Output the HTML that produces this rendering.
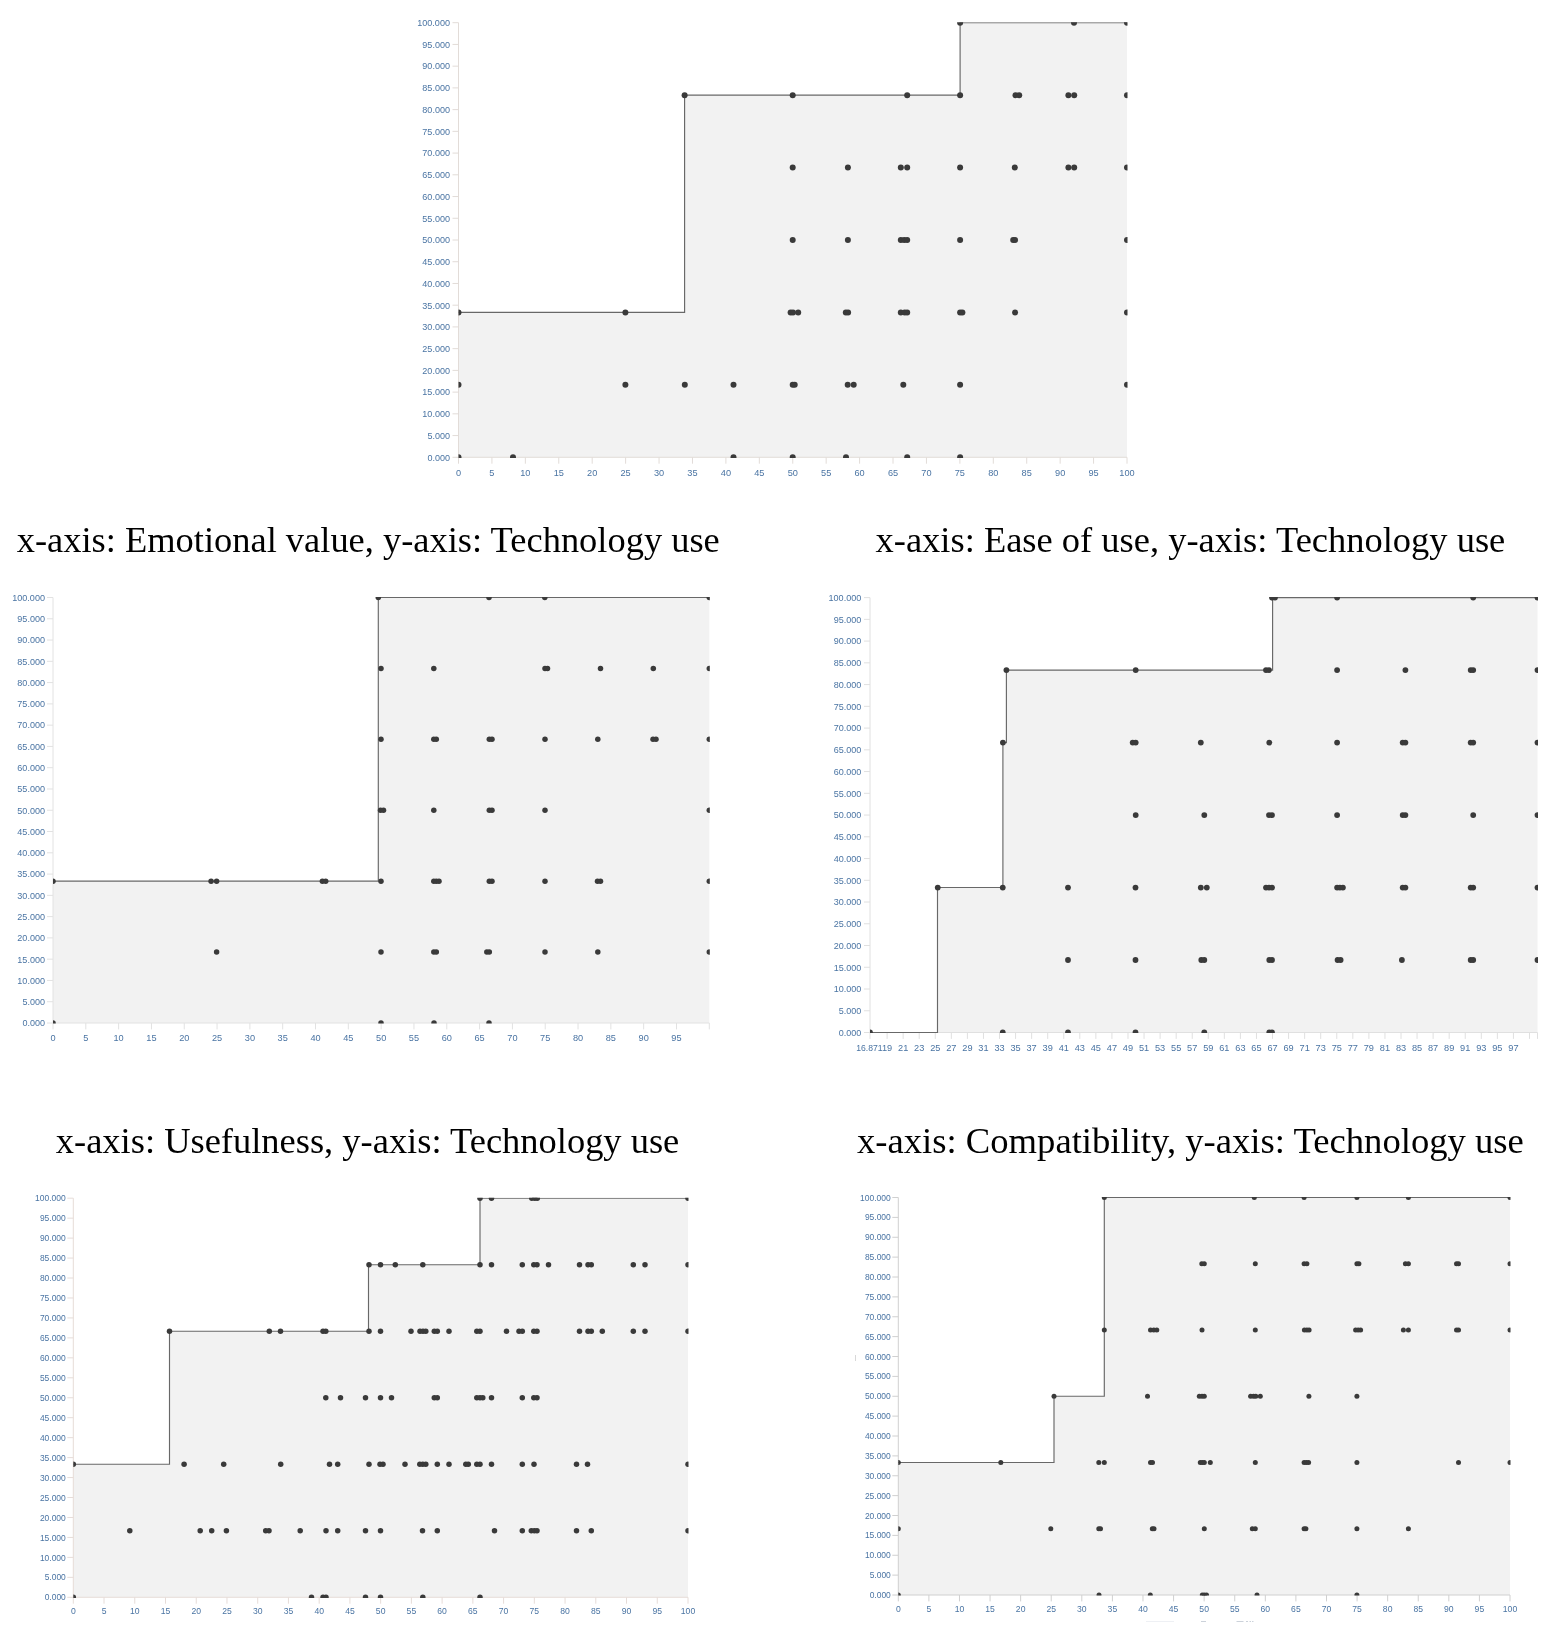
<!DOCTYPE html>
<html><head><meta charset="utf-8"><title>NCA scatter plots</title>
<style>
html,body{margin:0;padding:0;background:#fff;}
body{width:1559px;height:1632px;overflow:hidden;position:relative;}
svg{position:absolute;left:0;top:0;display:block;}
.t,.h{filter:url(#gs);}
.t{font-family:"Liberation Sans",sans-serif;fill:#4a74a3;}
.h{font-family:"Liberation Serif",serif;fill:#000;}
</style></head><body>
<svg width="1559" height="1632" viewBox="0 0 1559 1632">
<defs><filter id="gs" x="-5%" y="-50%" width="110%" height="200%" color-interpolation-filters="sRGB"><feOffset dx="0" dy="0"/></filter></defs>
<rect x="0" y="0" width="1559" height="1632" fill="#fff"/>
<g id="chart1">
<clipPath id="cp0"><rect x="458.5" y="22.2" width="669" height="435.7"/></clipPath>
<polygon fill="#f2f2f2" points="458.5,312.43 684.6,312.43 684.6,95.13 960.1,95.13 960.1,22.7 1127,22.7 1127,457.3 458.5,457.3"/>
<g stroke="#e2dcd8" stroke-width="1" fill="none">
<path d="M458.5 22.7V457.3H1127"/>
<path d="M458.5 457.3h-6M458.5 435.57h-6M458.5 413.84h-6M458.5 392.11h-6M458.5 370.38h-6M458.5 348.65h-6M458.5 326.92h-6M458.5 305.19h-6M458.5 283.46h-6M458.5 261.73h-6M458.5 240h-6M458.5 218.27h-6M458.5 196.54h-6M458.5 174.81h-6M458.5 153.08h-6M458.5 131.35h-6M458.5 109.62h-6M458.5 87.89h-6M458.5 66.16h-6M458.5 44.43h-6M458.5 22.7h-6"/>
<path d="M458.5 457.3v6.4M491.93 457.3v6.4M525.35 457.3v6.4M558.77 457.3v6.4M592.2 457.3v6.4M625.62 457.3v6.4M659.05 457.3v6.4M692.48 457.3v6.4M725.9 457.3v6.4M759.33 457.3v6.4M792.75 457.3v6.4M826.17 457.3v6.4M859.6 457.3v6.4M893.02 457.3v6.4M926.45 457.3v6.4M959.88 457.3v6.4M993.3 457.3v6.4M1026.72 457.3v6.4M1060.15 457.3v6.4M1093.57 457.3v6.4M1127 457.3v6.4"/>
</g>
<g class="t" font-size="9.5" text-anchor="end">
<text x="450" y="460.62" textLength="22.54" lengthAdjust="spacingAndGlyphs">0.000</text><text x="450" y="438.89" textLength="22.54" lengthAdjust="spacingAndGlyphs">5.000</text><text x="450" y="417.17" textLength="27.66" lengthAdjust="spacingAndGlyphs">10.000</text><text x="450" y="395.44" textLength="27.66" lengthAdjust="spacingAndGlyphs">15.000</text><text x="450" y="373.7" textLength="27.66" lengthAdjust="spacingAndGlyphs">20.000</text><text x="450" y="351.97" textLength="27.66" lengthAdjust="spacingAndGlyphs">25.000</text><text x="450" y="330.24" textLength="27.66" lengthAdjust="spacingAndGlyphs">30.000</text><text x="450" y="308.51" textLength="27.66" lengthAdjust="spacingAndGlyphs">35.000</text><text x="450" y="286.79" textLength="27.66" lengthAdjust="spacingAndGlyphs">40.000</text><text x="450" y="265.06" textLength="27.66" lengthAdjust="spacingAndGlyphs">45.000</text><text x="450" y="243.32" textLength="27.66" lengthAdjust="spacingAndGlyphs">50.000</text><text x="450" y="221.59" textLength="27.66" lengthAdjust="spacingAndGlyphs">55.000</text><text x="450" y="199.86" textLength="27.66" lengthAdjust="spacingAndGlyphs">60.000</text><text x="450" y="178.13" textLength="27.66" lengthAdjust="spacingAndGlyphs">65.000</text><text x="450" y="156.4" textLength="27.66" lengthAdjust="spacingAndGlyphs">70.000</text><text x="450" y="134.68" textLength="27.66" lengthAdjust="spacingAndGlyphs">75.000</text><text x="450" y="112.95" textLength="27.66" lengthAdjust="spacingAndGlyphs">80.000</text><text x="450" y="91.21" textLength="27.66" lengthAdjust="spacingAndGlyphs">85.000</text><text x="450" y="69.49" textLength="27.66" lengthAdjust="spacingAndGlyphs">90.000</text><text x="450" y="47.76" textLength="27.66" lengthAdjust="spacingAndGlyphs">95.000</text><text x="450" y="26.02" textLength="32.78" lengthAdjust="spacingAndGlyphs">100.000</text>
</g>
<g class="t" font-size="9.5" text-anchor="middle">
<text x="458.5" y="476.12" textLength="5.12" lengthAdjust="spacingAndGlyphs">0</text><text x="491.93" y="476.12" textLength="5.12" lengthAdjust="spacingAndGlyphs">5</text><text x="525.35" y="476.12" textLength="10.24" lengthAdjust="spacingAndGlyphs">10</text><text x="558.77" y="476.12" textLength="10.24" lengthAdjust="spacingAndGlyphs">15</text><text x="592.2" y="476.12" textLength="10.24" lengthAdjust="spacingAndGlyphs">20</text><text x="625.62" y="476.12" textLength="10.24" lengthAdjust="spacingAndGlyphs">25</text><text x="659.05" y="476.12" textLength="10.24" lengthAdjust="spacingAndGlyphs">30</text><text x="692.48" y="476.12" textLength="10.24" lengthAdjust="spacingAndGlyphs">35</text><text x="725.9" y="476.12" textLength="10.24" lengthAdjust="spacingAndGlyphs">40</text><text x="759.33" y="476.12" textLength="10.24" lengthAdjust="spacingAndGlyphs">45</text><text x="792.75" y="476.12" textLength="10.24" lengthAdjust="spacingAndGlyphs">50</text><text x="826.17" y="476.12" textLength="10.24" lengthAdjust="spacingAndGlyphs">55</text><text x="859.6" y="476.12" textLength="10.24" lengthAdjust="spacingAndGlyphs">60</text><text x="893.02" y="476.12" textLength="10.24" lengthAdjust="spacingAndGlyphs">65</text><text x="926.45" y="476.12" textLength="10.24" lengthAdjust="spacingAndGlyphs">70</text><text x="959.88" y="476.12" textLength="10.24" lengthAdjust="spacingAndGlyphs">75</text><text x="993.3" y="476.12" textLength="10.24" lengthAdjust="spacingAndGlyphs">80</text><text x="1026.72" y="476.12" textLength="10.24" lengthAdjust="spacingAndGlyphs">85</text><text x="1060.15" y="476.12" textLength="10.24" lengthAdjust="spacingAndGlyphs">90</text><text x="1093.57" y="476.12" textLength="10.24" lengthAdjust="spacingAndGlyphs">95</text><text x="1127" y="476.12" textLength="15.36" lengthAdjust="spacingAndGlyphs">100</text>
</g>
<g clip-path="url(#cp0)">
<polyline fill="none" stroke="#686868" stroke-width="1.15" points="458.5,312.43 684.6,312.43 684.6,95.13 960.1,95.13 960.1,22.7 1127,22.7"/>
<g fill="#3a3a3a">
<circle cx="960.1" cy="22.7" r="3"/><circle cx="1074" cy="22.7" r="3"/><circle cx="1127" cy="22.7" r="3"/>
<circle cx="684.6" cy="95.13" r="3"/><circle cx="792.7" cy="95.13" r="3"/><circle cx="907.2" cy="95.13" r="3"/><circle cx="960.1" cy="95.13" r="3"/><circle cx="1015.5" cy="95.13" r="3"/><circle cx="1019.2" cy="95.13" r="3"/><circle cx="1068.4" cy="95.13" r="3"/><circle cx="1074.2" cy="95.13" r="3"/><circle cx="1127" cy="95.13" r="3"/>
<circle cx="792.7" cy="167.57" r="3"/><circle cx="847.9" cy="167.57" r="3"/><circle cx="900.8" cy="167.57" r="3"/><circle cx="907.2" cy="167.57" r="3"/><circle cx="960.1" cy="167.57" r="3"/><circle cx="1014.8" cy="167.57" r="3"/><circle cx="1068.4" cy="167.57" r="3"/><circle cx="1074.2" cy="167.57" r="3"/><circle cx="1127" cy="167.57" r="3"/>
<circle cx="792.7" cy="240" r="3"/><circle cx="847.9" cy="240" r="3"/><circle cx="900.8" cy="240" r="3"/><circle cx="904.2" cy="240" r="3"/><circle cx="907.2" cy="240" r="3"/><circle cx="960.1" cy="240" r="3"/><circle cx="1013.2" cy="240" r="3"/><circle cx="1015.1" cy="240" r="3"/><circle cx="1127" cy="240" r="3"/>
<circle cx="458.5" cy="312.43" r="3"/><circle cx="625.4" cy="312.43" r="3"/><circle cx="790.6" cy="312.43" r="3"/><circle cx="793" cy="312.43" r="3"/><circle cx="798.2" cy="312.43" r="3"/><circle cx="845.8" cy="312.43" r="3"/><circle cx="848.1" cy="312.43" r="3"/><circle cx="900.8" cy="312.43" r="3"/><circle cx="904.7" cy="312.43" r="3"/><circle cx="907.2" cy="312.43" r="3"/><circle cx="960.1" cy="312.43" r="3"/><circle cx="962.4" cy="312.43" r="3"/><circle cx="1015.1" cy="312.43" r="3"/><circle cx="1127" cy="312.43" r="3"/>
<circle cx="458.5" cy="384.87" r="3"/><circle cx="625.4" cy="384.87" r="3"/><circle cx="684.8" cy="384.87" r="3"/><circle cx="733.5" cy="384.87" r="3"/><circle cx="792.7" cy="384.87" r="3"/><circle cx="794.7" cy="384.87" r="3"/><circle cx="847.7" cy="384.87" r="3"/><circle cx="853.7" cy="384.87" r="3"/><circle cx="903.3" cy="384.87" r="3"/><circle cx="960.1" cy="384.87" r="3"/><circle cx="1127" cy="384.87" r="3"/>
<circle cx="458.5" cy="457.3" r="3"/><circle cx="513" cy="457.3" r="3"/><circle cx="733.5" cy="457.3" r="3"/><circle cx="792.7" cy="457.3" r="3"/><circle cx="846" cy="457.3" r="3"/><circle cx="907.2" cy="457.3" r="3"/><circle cx="960.1" cy="457.3" r="3"/>
</g>
</g>
</g>
<g id="chart2">
<clipPath id="cp1"><rect x="53" y="597" width="656.8" height="426.6"/></clipPath>
<polygon fill="#f2f2f2" points="53,881.17 378.3,881.17 378.3,597.5 709.3,597.5 709.3,1023 53,1023"/>
<g stroke="#e2e2e2" stroke-width="1" fill="none">
<path d="M53 597.5V1023H709.3"/>
<path d="M53 1023h-6M53 1001.73h-6M53 980.45h-6M53 959.17h-6M53 937.9h-6M53 916.62h-6M53 895.35h-6M53 874.08h-6M53 852.8h-6M53 831.52h-6M53 810.25h-6M53 788.98h-6M53 767.7h-6M53 746.42h-6M53 725.15h-6M53 703.88h-6M53 682.6h-6M53 661.33h-6M53 640.05h-6M53 618.77h-6M53 597.5h-6"/>
<path d="M53 1023v6.4M85.81 1023v6.4M118.63 1023v6.4M151.44 1023v6.4M184.26 1023v6.4M217.07 1023v6.4M249.89 1023v6.4M282.7 1023v6.4M315.52 1023v6.4M348.33 1023v6.4M381.15 1023v6.4M413.96 1023v6.4M446.78 1023v6.4M479.59 1023v6.4M512.41 1023v6.4M545.22 1023v6.4M578.04 1023v6.4M610.86 1023v6.4M643.67 1023v6.4M676.49 1023v6.4M709.3 1023v6.4"/>
</g>
<g class="t" font-size="9.5" text-anchor="end">
<text x="45" y="1026.33" textLength="22.54" lengthAdjust="spacingAndGlyphs">0.000</text><text x="45" y="1005.05" textLength="22.54" lengthAdjust="spacingAndGlyphs">5.000</text><text x="45" y="983.78" textLength="27.66" lengthAdjust="spacingAndGlyphs">10.000</text><text x="45" y="962.5" textLength="27.66" lengthAdjust="spacingAndGlyphs">15.000</text><text x="45" y="941.23" textLength="27.66" lengthAdjust="spacingAndGlyphs">20.000</text><text x="45" y="919.95" textLength="27.66" lengthAdjust="spacingAndGlyphs">25.000</text><text x="45" y="898.68" textLength="27.66" lengthAdjust="spacingAndGlyphs">30.000</text><text x="45" y="877.4" textLength="27.66" lengthAdjust="spacingAndGlyphs">35.000</text><text x="45" y="856.12" textLength="27.66" lengthAdjust="spacingAndGlyphs">40.000</text><text x="45" y="834.85" textLength="27.66" lengthAdjust="spacingAndGlyphs">45.000</text><text x="45" y="813.58" textLength="27.66" lengthAdjust="spacingAndGlyphs">50.000</text><text x="45" y="792.3" textLength="27.66" lengthAdjust="spacingAndGlyphs">55.000</text><text x="45" y="771.03" textLength="27.66" lengthAdjust="spacingAndGlyphs">60.000</text><text x="45" y="749.75" textLength="27.66" lengthAdjust="spacingAndGlyphs">65.000</text><text x="45" y="728.48" textLength="27.66" lengthAdjust="spacingAndGlyphs">70.000</text><text x="45" y="707.2" textLength="27.66" lengthAdjust="spacingAndGlyphs">75.000</text><text x="45" y="685.93" textLength="27.66" lengthAdjust="spacingAndGlyphs">80.000</text><text x="45" y="664.65" textLength="27.66" lengthAdjust="spacingAndGlyphs">85.000</text><text x="45" y="643.38" textLength="27.66" lengthAdjust="spacingAndGlyphs">90.000</text><text x="45" y="622.1" textLength="27.66" lengthAdjust="spacingAndGlyphs">95.000</text><text x="45" y="600.83" textLength="32.78" lengthAdjust="spacingAndGlyphs">100.000</text>
</g>
<g class="t" font-size="9.5" text-anchor="middle">
<text x="53" y="1041.33" textLength="5.12" lengthAdjust="spacingAndGlyphs">0</text><text x="85.81" y="1041.33" textLength="5.12" lengthAdjust="spacingAndGlyphs">5</text><text x="118.63" y="1041.33" textLength="10.24" lengthAdjust="spacingAndGlyphs">10</text><text x="151.44" y="1041.33" textLength="10.24" lengthAdjust="spacingAndGlyphs">15</text><text x="184.26" y="1041.33" textLength="10.24" lengthAdjust="spacingAndGlyphs">20</text><text x="217.07" y="1041.33" textLength="10.24" lengthAdjust="spacingAndGlyphs">25</text><text x="249.89" y="1041.33" textLength="10.24" lengthAdjust="spacingAndGlyphs">30</text><text x="282.7" y="1041.33" textLength="10.24" lengthAdjust="spacingAndGlyphs">35</text><text x="315.52" y="1041.33" textLength="10.24" lengthAdjust="spacingAndGlyphs">40</text><text x="348.33" y="1041.33" textLength="10.24" lengthAdjust="spacingAndGlyphs">45</text><text x="381.15" y="1041.33" textLength="10.24" lengthAdjust="spacingAndGlyphs">50</text><text x="413.96" y="1041.33" textLength="10.24" lengthAdjust="spacingAndGlyphs">55</text><text x="446.78" y="1041.33" textLength="10.24" lengthAdjust="spacingAndGlyphs">60</text><text x="479.59" y="1041.33" textLength="10.24" lengthAdjust="spacingAndGlyphs">65</text><text x="512.41" y="1041.33" textLength="10.24" lengthAdjust="spacingAndGlyphs">70</text><text x="545.22" y="1041.33" textLength="10.24" lengthAdjust="spacingAndGlyphs">75</text><text x="578.04" y="1041.33" textLength="10.24" lengthAdjust="spacingAndGlyphs">80</text><text x="610.86" y="1041.33" textLength="10.24" lengthAdjust="spacingAndGlyphs">85</text><text x="643.67" y="1041.33" textLength="10.24" lengthAdjust="spacingAndGlyphs">90</text><text x="676.49" y="1041.33" textLength="10.24" lengthAdjust="spacingAndGlyphs">95</text>
</g>
<g clip-path="url(#cp1)">
<polyline fill="none" stroke="#686868" stroke-width="1.15" points="53,881.17 378.3,881.17 378.3,597.5 709.3,597.5"/>
<g fill="#3a3a3a">
<circle cx="378.3" cy="597.5" r="2.75"/><circle cx="489" cy="597.5" r="2.75"/><circle cx="544.8" cy="597.5" r="2.75"/><circle cx="709.3" cy="597.5" r="2.75"/>
<circle cx="381" cy="668.42" r="2.75"/><circle cx="433.8" cy="668.42" r="2.75"/><circle cx="545" cy="668.42" r="2.75"/><circle cx="547.5" cy="668.42" r="2.75"/><circle cx="600.5" cy="668.42" r="2.75"/><circle cx="653.3" cy="668.42" r="2.75"/><circle cx="709.3" cy="668.42" r="2.75"/>
<circle cx="381" cy="739.33" r="2.75"/><circle cx="433.8" cy="739.33" r="2.75"/><circle cx="436.3" cy="739.33" r="2.75"/><circle cx="489.3" cy="739.33" r="2.75"/><circle cx="492" cy="739.33" r="2.75"/><circle cx="545" cy="739.33" r="2.75"/><circle cx="597.8" cy="739.33" r="2.75"/><circle cx="653" cy="739.33" r="2.75"/><circle cx="656" cy="739.33" r="2.75"/><circle cx="709.3" cy="739.33" r="2.75"/>
<circle cx="380.5" cy="810.25" r="2.75"/><circle cx="383.5" cy="810.25" r="2.75"/><circle cx="433.8" cy="810.25" r="2.75"/><circle cx="489.3" cy="810.25" r="2.75"/><circle cx="492" cy="810.25" r="2.75"/><circle cx="545" cy="810.25" r="2.75"/><circle cx="709.3" cy="810.25" r="2.75"/>
<circle cx="53" cy="881.17" r="2.75"/><circle cx="211.1" cy="881.17" r="2.75"/><circle cx="216.6" cy="881.17" r="2.75"/><circle cx="322.4" cy="881.17" r="2.75"/><circle cx="325.7" cy="881.17" r="2.75"/><circle cx="381" cy="881.17" r="2.75"/><circle cx="433.8" cy="881.17" r="2.75"/><circle cx="436.3" cy="881.17" r="2.75"/><circle cx="439" cy="881.17" r="2.75"/><circle cx="489.3" cy="881.17" r="2.75"/><circle cx="492" cy="881.17" r="2.75"/><circle cx="545" cy="881.17" r="2.75"/><circle cx="597.5" cy="881.17" r="2.75"/><circle cx="600.5" cy="881.17" r="2.75"/><circle cx="709.3" cy="881.17" r="2.75"/>
<circle cx="216.6" cy="952.08" r="2.75"/><circle cx="381" cy="952.08" r="2.75"/><circle cx="433.8" cy="952.08" r="2.75"/><circle cx="436.3" cy="952.08" r="2.75"/><circle cx="486.8" cy="952.08" r="2.75"/><circle cx="489.3" cy="952.08" r="2.75"/><circle cx="545" cy="952.08" r="2.75"/><circle cx="597.8" cy="952.08" r="2.75"/><circle cx="709.3" cy="952.08" r="2.75"/>
<circle cx="53" cy="1023" r="2.75"/><circle cx="381" cy="1023" r="2.75"/><circle cx="434" cy="1023" r="2.75"/><circle cx="489" cy="1023" r="2.75"/>
</g>
</g>
</g>
<g id="chart3">
<clipPath id="cp2"><rect x="870" y="597.1" width="668" height="436"/></clipPath>
<polygon fill="#f2f2f2" points="870,1032.5 937.5,1032.5 937.5,887.53 1002.9,887.53 1002.9,742.57 1006.4,742.57 1006.4,670.08 1272.6,670.08 1272.6,597.6 1537.5,597.6 1537.5,1032.5 870,1032.5"/>
<g stroke="#e0e0e0" stroke-width="1" fill="none">
<path d="M870 597.6V1032.5H1537.5"/>
<path d="M870 1032.5h-6M870 1010.75h-6M870 989.01h-6M870 967.26h-6M870 945.52h-6M870 923.77h-6M870 902.03h-6M870 880.29h-6M870 858.54h-6M870 836.8h-6M870 815.05h-6M870 793.31h-6M870 771.56h-6M870 749.82h-6M870 728.07h-6M870 706.33h-6M870 684.58h-6M870 662.84h-6M870 641.09h-6M870 619.35h-6M870 597.6h-6"/>
<path d="M870 1032.5v6.4M887.1 1032.5v6.4M903.15 1032.5v6.4M919.21 1032.5v6.4M935.27 1032.5v6.4M951.33 1032.5v6.4M967.39 1032.5v6.4M983.45 1032.5v6.4M999.51 1032.5v6.4M1015.57 1032.5v6.4M1031.63 1032.5v6.4M1047.69 1032.5v6.4M1063.75 1032.5v6.4M1079.81 1032.5v6.4M1095.87 1032.5v6.4M1111.93 1032.5v6.4M1127.99 1032.5v6.4M1144.05 1032.5v6.4M1160.1 1032.5v6.4M1176.16 1032.5v6.4M1192.22 1032.5v6.4M1208.28 1032.5v6.4M1224.34 1032.5v6.4M1240.4 1032.5v6.4M1256.46 1032.5v6.4M1272.52 1032.5v6.4M1288.58 1032.5v6.4M1304.64 1032.5v6.4M1320.7 1032.5v6.4M1336.76 1032.5v6.4M1352.82 1032.5v6.4M1368.88 1032.5v6.4M1384.94 1032.5v6.4M1401 1032.5v6.4M1417.05 1032.5v6.4M1433.11 1032.5v6.4M1449.17 1032.5v6.4M1465.23 1032.5v6.4M1481.29 1032.5v6.4M1497.35 1032.5v6.4M1513.41 1032.5v6.4M1529.47 1032.5v6.4M1537.5 1032.5v6.4"/>
</g>
<g class="t" font-size="9.5" text-anchor="end">
<text x="861.3" y="1035.83" textLength="22.54" lengthAdjust="spacingAndGlyphs">0.000</text><text x="861.3" y="1014.08" textLength="22.54" lengthAdjust="spacingAndGlyphs">5.000</text><text x="861.3" y="992.34" textLength="27.66" lengthAdjust="spacingAndGlyphs">10.000</text><text x="861.3" y="970.59" textLength="27.66" lengthAdjust="spacingAndGlyphs">15.000</text><text x="861.3" y="948.85" textLength="27.66" lengthAdjust="spacingAndGlyphs">20.000</text><text x="861.3" y="927.1" textLength="27.66" lengthAdjust="spacingAndGlyphs">25.000</text><text x="861.3" y="905.36" textLength="27.66" lengthAdjust="spacingAndGlyphs">30.000</text><text x="861.3" y="883.61" textLength="27.66" lengthAdjust="spacingAndGlyphs">35.000</text><text x="861.3" y="861.87" textLength="27.66" lengthAdjust="spacingAndGlyphs">40.000</text><text x="861.3" y="840.12" textLength="27.66" lengthAdjust="spacingAndGlyphs">45.000</text><text x="861.3" y="818.38" textLength="27.66" lengthAdjust="spacingAndGlyphs">50.000</text><text x="861.3" y="796.63" textLength="27.66" lengthAdjust="spacingAndGlyphs">55.000</text><text x="861.3" y="774.89" textLength="27.66" lengthAdjust="spacingAndGlyphs">60.000</text><text x="861.3" y="753.14" textLength="27.66" lengthAdjust="spacingAndGlyphs">65.000</text><text x="861.3" y="731.4" textLength="27.66" lengthAdjust="spacingAndGlyphs">70.000</text><text x="861.3" y="709.65" textLength="27.66" lengthAdjust="spacingAndGlyphs">75.000</text><text x="861.3" y="687.91" textLength="27.66" lengthAdjust="spacingAndGlyphs">80.000</text><text x="861.3" y="666.16" textLength="27.66" lengthAdjust="spacingAndGlyphs">85.000</text><text x="861.3" y="644.42" textLength="27.66" lengthAdjust="spacingAndGlyphs">90.000</text><text x="861.3" y="622.67" textLength="27.66" lengthAdjust="spacingAndGlyphs">95.000</text><text x="861.3" y="600.93" textLength="32.78" lengthAdjust="spacingAndGlyphs">100.000</text>
</g>
<g class="t" font-size="9.5" text-anchor="middle">
<text x="887.1" y="1050.83" textLength="10.24" lengthAdjust="spacingAndGlyphs">19</text><text x="903.15" y="1050.83" textLength="10.24" lengthAdjust="spacingAndGlyphs">21</text><text x="919.21" y="1050.83" textLength="10.24" lengthAdjust="spacingAndGlyphs">23</text><text x="935.27" y="1050.83" textLength="10.24" lengthAdjust="spacingAndGlyphs">25</text><text x="951.33" y="1050.83" textLength="10.24" lengthAdjust="spacingAndGlyphs">27</text><text x="967.39" y="1050.83" textLength="10.24" lengthAdjust="spacingAndGlyphs">29</text><text x="983.45" y="1050.83" textLength="10.24" lengthAdjust="spacingAndGlyphs">31</text><text x="999.51" y="1050.83" textLength="10.24" lengthAdjust="spacingAndGlyphs">33</text><text x="1015.57" y="1050.83" textLength="10.24" lengthAdjust="spacingAndGlyphs">35</text><text x="1031.63" y="1050.83" textLength="10.24" lengthAdjust="spacingAndGlyphs">37</text><text x="1047.69" y="1050.83" textLength="10.24" lengthAdjust="spacingAndGlyphs">39</text><text x="1063.75" y="1050.83" textLength="10.24" lengthAdjust="spacingAndGlyphs">41</text><text x="1079.81" y="1050.83" textLength="10.24" lengthAdjust="spacingAndGlyphs">43</text><text x="1095.87" y="1050.83" textLength="10.24" lengthAdjust="spacingAndGlyphs">45</text><text x="1111.93" y="1050.83" textLength="10.24" lengthAdjust="spacingAndGlyphs">47</text><text x="1127.99" y="1050.83" textLength="10.24" lengthAdjust="spacingAndGlyphs">49</text><text x="1144.05" y="1050.83" textLength="10.24" lengthAdjust="spacingAndGlyphs">51</text><text x="1160.1" y="1050.83" textLength="10.24" lengthAdjust="spacingAndGlyphs">53</text><text x="1176.16" y="1050.83" textLength="10.24" lengthAdjust="spacingAndGlyphs">55</text><text x="1192.22" y="1050.83" textLength="10.24" lengthAdjust="spacingAndGlyphs">57</text><text x="1208.28" y="1050.83" textLength="10.24" lengthAdjust="spacingAndGlyphs">59</text><text x="1224.34" y="1050.83" textLength="10.24" lengthAdjust="spacingAndGlyphs">61</text><text x="1240.4" y="1050.83" textLength="10.24" lengthAdjust="spacingAndGlyphs">63</text><text x="1256.46" y="1050.83" textLength="10.24" lengthAdjust="spacingAndGlyphs">65</text><text x="1272.52" y="1050.83" textLength="10.24" lengthAdjust="spacingAndGlyphs">67</text><text x="1288.58" y="1050.83" textLength="10.24" lengthAdjust="spacingAndGlyphs">69</text><text x="1304.64" y="1050.83" textLength="10.24" lengthAdjust="spacingAndGlyphs">71</text><text x="1320.7" y="1050.83" textLength="10.24" lengthAdjust="spacingAndGlyphs">73</text><text x="1336.76" y="1050.83" textLength="10.24" lengthAdjust="spacingAndGlyphs">75</text><text x="1352.82" y="1050.83" textLength="10.24" lengthAdjust="spacingAndGlyphs">77</text><text x="1368.88" y="1050.83" textLength="10.24" lengthAdjust="spacingAndGlyphs">79</text><text x="1384.94" y="1050.83" textLength="10.24" lengthAdjust="spacingAndGlyphs">81</text><text x="1401" y="1050.83" textLength="10.24" lengthAdjust="spacingAndGlyphs">83</text><text x="1417.05" y="1050.83" textLength="10.24" lengthAdjust="spacingAndGlyphs">85</text><text x="1433.11" y="1050.83" textLength="10.24" lengthAdjust="spacingAndGlyphs">87</text><text x="1449.17" y="1050.83" textLength="10.24" lengthAdjust="spacingAndGlyphs">89</text><text x="1465.23" y="1050.83" textLength="10.24" lengthAdjust="spacingAndGlyphs">91</text><text x="1481.29" y="1050.83" textLength="10.24" lengthAdjust="spacingAndGlyphs">93</text><text x="1497.35" y="1050.83" textLength="10.24" lengthAdjust="spacingAndGlyphs">95</text><text x="1513.41" y="1050.83" textLength="10.24" lengthAdjust="spacingAndGlyphs">97</text><text x="856.2" y="1050.83" text-anchor="start" textLength="26.4" lengthAdjust="spacingAndGlyphs">16.871</text>
</g>
<g clip-path="url(#cp2)">
<polyline fill="none" stroke="#686868" stroke-width="1.15" points="870,1032.5 937.5,1032.5 937.5,887.53 1002.9,887.53 1002.9,742.57 1006.4,742.57 1006.4,670.08 1272.6,670.08 1272.6,597.6 1537.5,597.6"/>
<g fill="#3a3a3a">
<circle cx="1272" cy="597.6" r="2.9"/><circle cx="1275" cy="597.6" r="2.9"/><circle cx="1337.1" cy="597.6" r="2.9"/><circle cx="1473.2" cy="597.6" r="2.9"/><circle cx="1537.5" cy="597.6" r="2.9"/>
<circle cx="1006.4" cy="670.08" r="2.9"/><circle cx="1135.7" cy="670.08" r="2.9"/><circle cx="1266" cy="670.08" r="2.9"/><circle cx="1269" cy="670.08" r="2.9"/><circle cx="1337.1" cy="670.08" r="2.9"/><circle cx="1405.4" cy="670.08" r="2.9"/><circle cx="1470.7" cy="670.08" r="2.9"/><circle cx="1473.2" cy="670.08" r="2.9"/><circle cx="1537.5" cy="670.08" r="2.9"/>
<circle cx="1002.9" cy="742.57" r="2.9"/><circle cx="1132.7" cy="742.57" r="2.9"/><circle cx="1135.7" cy="742.57" r="2.9"/><circle cx="1200.8" cy="742.57" r="2.9"/><circle cx="1269.3" cy="742.57" r="2.9"/><circle cx="1337.1" cy="742.57" r="2.9"/><circle cx="1402.7" cy="742.57" r="2.9"/><circle cx="1405.4" cy="742.57" r="2.9"/><circle cx="1470.7" cy="742.57" r="2.9"/><circle cx="1473.2" cy="742.57" r="2.9"/><circle cx="1537.5" cy="742.57" r="2.9"/>
<circle cx="1135.7" cy="815.05" r="2.9"/><circle cx="1204.3" cy="815.05" r="2.9"/><circle cx="1269" cy="815.05" r="2.9"/><circle cx="1272" cy="815.05" r="2.9"/><circle cx="1337.1" cy="815.05" r="2.9"/><circle cx="1402.7" cy="815.05" r="2.9"/><circle cx="1405.4" cy="815.05" r="2.9"/><circle cx="1473.2" cy="815.05" r="2.9"/><circle cx="1537.5" cy="815.05" r="2.9"/>
<circle cx="937.75" cy="887.53" r="2.9"/><circle cx="1002.75" cy="887.53" r="2.9"/><circle cx="1068" cy="887.53" r="2.9"/><circle cx="1135.5" cy="887.53" r="2.9"/><circle cx="1200.8" cy="887.53" r="2.9"/><circle cx="1206.8" cy="887.53" r="2.9"/><circle cx="1266" cy="887.53" r="2.9"/><circle cx="1269" cy="887.53" r="2.9"/><circle cx="1272" cy="887.53" r="2.9"/><circle cx="1337.1" cy="887.53" r="2.9"/><circle cx="1339.9" cy="887.53" r="2.9"/><circle cx="1342.9" cy="887.53" r="2.9"/><circle cx="1402.7" cy="887.53" r="2.9"/><circle cx="1405.4" cy="887.53" r="2.9"/><circle cx="1470.7" cy="887.53" r="2.9"/><circle cx="1473.2" cy="887.53" r="2.9"/><circle cx="1537.5" cy="887.53" r="2.9"/>
<circle cx="1068" cy="960.02" r="2.9"/><circle cx="1135.5" cy="960.02" r="2.9"/><circle cx="1201.3" cy="960.02" r="2.9"/><circle cx="1204.3" cy="960.02" r="2.9"/><circle cx="1269.3" cy="960.02" r="2.9"/><circle cx="1272" cy="960.02" r="2.9"/><circle cx="1337.6" cy="960.02" r="2.9"/><circle cx="1340.6" cy="960.02" r="2.9"/><circle cx="1401.9" cy="960.02" r="2.9"/><circle cx="1470.7" cy="960.02" r="2.9"/><circle cx="1473.2" cy="960.02" r="2.9"/><circle cx="1537.5" cy="960.02" r="2.9"/>
<circle cx="870" cy="1032.5" r="2.9"/><circle cx="1002.75" cy="1032.5" r="2.9"/><circle cx="1068" cy="1032.5" r="2.9"/><circle cx="1135.5" cy="1032.5" r="2.9"/><circle cx="1204.3" cy="1032.5" r="2.9"/><circle cx="1269.3" cy="1032.5" r="2.9"/><circle cx="1272" cy="1032.5" r="2.9"/>
</g>
</g>
</g>
<g id="chart4">
<clipPath id="cp3"><rect x="73.3" y="1197.7" width="615.2" height="400.2"/></clipPath>
<polygon fill="#f2f2f2" points="73.3,1464.27 169.5,1464.27 169.5,1331.23 368.5,1331.23 368.5,1264.72 480,1264.72 480,1198.2 688,1198.2 688,1597.3 73.3,1597.3"/>
<g stroke="#e6dcd8" stroke-width="1" fill="none">
<path d="M73.3 1198.2V1597.3H688"/>
<path d="M73.3 1597.3h-6M73.3 1577.35h-6M73.3 1557.39h-6M73.3 1537.43h-6M73.3 1517.48h-6M73.3 1497.53h-6M73.3 1477.57h-6M73.3 1457.62h-6M73.3 1437.66h-6M73.3 1417.7h-6M73.3 1397.75h-6M73.3 1377.8h-6M73.3 1357.84h-6M73.3 1337.88h-6M73.3 1317.93h-6M73.3 1297.97h-6M73.3 1278.02h-6M73.3 1258.07h-6M73.3 1238.11h-6M73.3 1218.16h-6M73.3 1198.2h-6"/>
<path d="M73.3 1597.3v6.4M104.03 1597.3v6.4M134.77 1597.3v6.4M165.5 1597.3v6.4M196.24 1597.3v6.4M226.98 1597.3v6.4M257.71 1597.3v6.4M288.44 1597.3v6.4M319.18 1597.3v6.4M349.92 1597.3v6.4M380.65 1597.3v6.4M411.39 1597.3v6.4M442.12 1597.3v6.4M472.86 1597.3v6.4M503.59 1597.3v6.4M534.33 1597.3v6.4M565.06 1597.3v6.4M595.79 1597.3v6.4M626.53 1597.3v6.4M657.26 1597.3v6.4M688 1597.3v6.4"/>
</g>
<g class="t" font-size="8.9" text-anchor="end">
<text x="65.8" y="1600.41" textLength="21.12" lengthAdjust="spacingAndGlyphs">0.000</text><text x="65.8" y="1580.46" textLength="21.12" lengthAdjust="spacingAndGlyphs">5.000</text><text x="65.8" y="1560.5" textLength="25.92" lengthAdjust="spacingAndGlyphs">10.000</text><text x="65.8" y="1540.55" textLength="25.92" lengthAdjust="spacingAndGlyphs">15.000</text><text x="65.8" y="1520.6" textLength="25.92" lengthAdjust="spacingAndGlyphs">20.000</text><text x="65.8" y="1500.64" textLength="25.92" lengthAdjust="spacingAndGlyphs">25.000</text><text x="65.8" y="1480.68" textLength="25.92" lengthAdjust="spacingAndGlyphs">30.000</text><text x="65.8" y="1460.73" textLength="25.92" lengthAdjust="spacingAndGlyphs">35.000</text><text x="65.8" y="1440.78" textLength="25.92" lengthAdjust="spacingAndGlyphs">40.000</text><text x="65.8" y="1420.82" textLength="25.92" lengthAdjust="spacingAndGlyphs">45.000</text><text x="65.8" y="1400.87" textLength="25.92" lengthAdjust="spacingAndGlyphs">50.000</text><text x="65.8" y="1380.91" textLength="25.92" lengthAdjust="spacingAndGlyphs">55.000</text><text x="65.8" y="1360.95" textLength="25.92" lengthAdjust="spacingAndGlyphs">60.000</text><text x="65.8" y="1341" textLength="25.92" lengthAdjust="spacingAndGlyphs">65.000</text><text x="65.8" y="1321.05" textLength="25.92" lengthAdjust="spacingAndGlyphs">70.000</text><text x="65.8" y="1301.09" textLength="25.92" lengthAdjust="spacingAndGlyphs">75.000</text><text x="65.8" y="1281.13" textLength="25.92" lengthAdjust="spacingAndGlyphs">80.000</text><text x="65.8" y="1261.18" textLength="25.92" lengthAdjust="spacingAndGlyphs">85.000</text><text x="65.8" y="1241.23" textLength="25.92" lengthAdjust="spacingAndGlyphs">90.000</text><text x="65.8" y="1221.27" textLength="25.92" lengthAdjust="spacingAndGlyphs">95.000</text><text x="65.8" y="1201.32" textLength="30.71" lengthAdjust="spacingAndGlyphs">100.000</text>
</g>
<g class="t" font-size="8.9" text-anchor="middle">
<text x="73.3" y="1614.12" textLength="4.8" lengthAdjust="spacingAndGlyphs">0</text><text x="104.03" y="1614.12" textLength="4.8" lengthAdjust="spacingAndGlyphs">5</text><text x="134.77" y="1614.12" textLength="9.59" lengthAdjust="spacingAndGlyphs">10</text><text x="165.5" y="1614.12" textLength="9.59" lengthAdjust="spacingAndGlyphs">15</text><text x="196.24" y="1614.12" textLength="9.59" lengthAdjust="spacingAndGlyphs">20</text><text x="226.98" y="1614.12" textLength="9.59" lengthAdjust="spacingAndGlyphs">25</text><text x="257.71" y="1614.12" textLength="9.59" lengthAdjust="spacingAndGlyphs">30</text><text x="288.44" y="1614.12" textLength="9.59" lengthAdjust="spacingAndGlyphs">35</text><text x="319.18" y="1614.12" textLength="9.59" lengthAdjust="spacingAndGlyphs">40</text><text x="349.92" y="1614.12" textLength="9.59" lengthAdjust="spacingAndGlyphs">45</text><text x="380.65" y="1614.12" textLength="9.59" lengthAdjust="spacingAndGlyphs">50</text><text x="411.39" y="1614.12" textLength="9.59" lengthAdjust="spacingAndGlyphs">55</text><text x="442.12" y="1614.12" textLength="9.59" lengthAdjust="spacingAndGlyphs">60</text><text x="472.86" y="1614.12" textLength="9.59" lengthAdjust="spacingAndGlyphs">65</text><text x="503.59" y="1614.12" textLength="9.59" lengthAdjust="spacingAndGlyphs">70</text><text x="534.33" y="1614.12" textLength="9.59" lengthAdjust="spacingAndGlyphs">75</text><text x="565.06" y="1614.12" textLength="9.59" lengthAdjust="spacingAndGlyphs">80</text><text x="595.79" y="1614.12" textLength="9.59" lengthAdjust="spacingAndGlyphs">85</text><text x="626.53" y="1614.12" textLength="9.59" lengthAdjust="spacingAndGlyphs">90</text><text x="657.26" y="1614.12" textLength="9.59" lengthAdjust="spacingAndGlyphs">95</text><text x="688" y="1614.12" textLength="14.39" lengthAdjust="spacingAndGlyphs">100</text>
</g>
<g clip-path="url(#cp3)">
<polyline fill="none" stroke="#686868" stroke-width="1.15" points="73.3,1464.27 169.5,1464.27 169.5,1331.23 368.5,1331.23 368.5,1264.72 480,1264.72 480,1198.2 688,1198.2"/>
<g fill="#3a3a3a">
<circle cx="480" cy="1198.2" r="2.75"/><circle cx="491.5" cy="1198.2" r="2.75"/><circle cx="531.8" cy="1198.2" r="2.75"/><circle cx="534.8" cy="1198.2" r="2.75"/><circle cx="537.3" cy="1198.2" r="2.75"/><circle cx="688" cy="1198.2" r="2.75"/>
<circle cx="369" cy="1264.72" r="2.75"/><circle cx="380.5" cy="1264.72" r="2.75"/><circle cx="395.3" cy="1264.72" r="2.75"/><circle cx="422.8" cy="1264.72" r="2.75"/><circle cx="480" cy="1264.72" r="2.75"/><circle cx="491.5" cy="1264.72" r="2.75"/><circle cx="522.3" cy="1264.72" r="2.75"/><circle cx="533.8" cy="1264.72" r="2.75"/><circle cx="537" cy="1264.72" r="2.75"/><circle cx="548.5" cy="1264.72" r="2.75"/><circle cx="579.5" cy="1264.72" r="2.75"/><circle cx="588" cy="1264.72" r="2.75"/><circle cx="591.3" cy="1264.72" r="2.75"/><circle cx="633.3" cy="1264.72" r="2.75"/><circle cx="645" cy="1264.72" r="2.75"/><circle cx="688" cy="1264.72" r="2.75"/>
<circle cx="169.5" cy="1331.23" r="2.75"/><circle cx="269.3" cy="1331.23" r="2.75"/><circle cx="280.5" cy="1331.23" r="2.75"/><circle cx="323" cy="1331.23" r="2.75"/><circle cx="325.8" cy="1331.23" r="2.75"/><circle cx="369" cy="1331.23" r="2.75"/><circle cx="380.5" cy="1331.23" r="2.75"/><circle cx="411" cy="1331.23" r="2.75"/><circle cx="420" cy="1331.23" r="2.75"/><circle cx="423" cy="1331.23" r="2.75"/><circle cx="425.8" cy="1331.23" r="2.75"/><circle cx="434.3" cy="1331.23" r="2.75"/><circle cx="437.3" cy="1331.23" r="2.75"/><circle cx="449" cy="1331.23" r="2.75"/><circle cx="476.8" cy="1331.23" r="2.75"/><circle cx="480" cy="1331.23" r="2.75"/><circle cx="506.5" cy="1331.23" r="2.75"/><circle cx="519" cy="1331.23" r="2.75"/><circle cx="522.3" cy="1331.23" r="2.75"/><circle cx="533.8" cy="1331.23" r="2.75"/><circle cx="537" cy="1331.23" r="2.75"/><circle cx="579.5" cy="1331.23" r="2.75"/><circle cx="588" cy="1331.23" r="2.75"/><circle cx="591.3" cy="1331.23" r="2.75"/><circle cx="602.3" cy="1331.23" r="2.75"/><circle cx="633.3" cy="1331.23" r="2.75"/><circle cx="645" cy="1331.23" r="2.75"/><circle cx="688" cy="1331.23" r="2.75"/>
<circle cx="325.8" cy="1397.75" r="2.75"/><circle cx="340.5" cy="1397.75" r="2.75"/><circle cx="365.5" cy="1397.75" r="2.75"/><circle cx="380.5" cy="1397.75" r="2.75"/><circle cx="391.5" cy="1397.75" r="2.75"/><circle cx="434.3" cy="1397.75" r="2.75"/><circle cx="437.3" cy="1397.75" r="2.75"/><circle cx="476.8" cy="1397.75" r="2.75"/><circle cx="480" cy="1397.75" r="2.75"/><circle cx="482.8" cy="1397.75" r="2.75"/><circle cx="491.5" cy="1397.75" r="2.75"/><circle cx="522.3" cy="1397.75" r="2.75"/><circle cx="533.8" cy="1397.75" r="2.75"/><circle cx="537" cy="1397.75" r="2.75"/>
<circle cx="73.3" cy="1464.27" r="2.75"/><circle cx="184.1" cy="1464.27" r="2.75"/><circle cx="223.7" cy="1464.27" r="2.75"/><circle cx="280.7" cy="1464.27" r="2.75"/><circle cx="329.5" cy="1464.27" r="2.75"/><circle cx="337.7" cy="1464.27" r="2.75"/><circle cx="369" cy="1464.27" r="2.75"/><circle cx="380" cy="1464.27" r="2.75"/><circle cx="383" cy="1464.27" r="2.75"/><circle cx="405" cy="1464.27" r="2.75"/><circle cx="419.8" cy="1464.27" r="2.75"/><circle cx="422.8" cy="1464.27" r="2.75"/><circle cx="425.8" cy="1464.27" r="2.75"/><circle cx="437.3" cy="1464.27" r="2.75"/><circle cx="449" cy="1464.27" r="2.75"/><circle cx="465.8" cy="1464.27" r="2.75"/><circle cx="468.3" cy="1464.27" r="2.75"/><circle cx="476.8" cy="1464.27" r="2.75"/><circle cx="480" cy="1464.27" r="2.75"/><circle cx="491.5" cy="1464.27" r="2.75"/><circle cx="522.3" cy="1464.27" r="2.75"/><circle cx="534" cy="1464.27" r="2.75"/><circle cx="576.5" cy="1464.27" r="2.75"/><circle cx="587.5" cy="1464.27" r="2.75"/><circle cx="688" cy="1464.27" r="2.75"/>
<circle cx="129.8" cy="1530.78" r="2.75"/><circle cx="200.2" cy="1530.78" r="2.75"/><circle cx="211.7" cy="1530.78" r="2.75"/><circle cx="226.4" cy="1530.78" r="2.75"/><circle cx="265.7" cy="1530.78" r="2.75"/><circle cx="269" cy="1530.78" r="2.75"/><circle cx="300.2" cy="1530.78" r="2.75"/><circle cx="326" cy="1530.78" r="2.75"/><circle cx="337.7" cy="1530.78" r="2.75"/><circle cx="365.5" cy="1530.78" r="2.75"/><circle cx="380.5" cy="1530.78" r="2.75"/><circle cx="422.5" cy="1530.78" r="2.75"/><circle cx="437.3" cy="1530.78" r="2.75"/><circle cx="494.5" cy="1530.78" r="2.75"/><circle cx="522.3" cy="1530.78" r="2.75"/><circle cx="531.3" cy="1530.78" r="2.75"/><circle cx="534.3" cy="1530.78" r="2.75"/><circle cx="537" cy="1530.78" r="2.75"/><circle cx="576.5" cy="1530.78" r="2.75"/><circle cx="591.3" cy="1530.78" r="2.75"/><circle cx="688" cy="1530.78" r="2.75"/>
<circle cx="73.3" cy="1597.3" r="2.75"/><circle cx="311.5" cy="1597.3" r="2.75"/><circle cx="323" cy="1597.3" r="2.75"/><circle cx="326" cy="1597.3" r="2.75"/><circle cx="365.5" cy="1597.3" r="2.75"/><circle cx="380.5" cy="1597.3" r="2.75"/><circle cx="422.8" cy="1597.3" r="2.75"/><circle cx="480" cy="1597.3" r="2.75"/>
</g>
</g>
</g>
<g id="chart5">
<clipPath id="cp4"><rect x="898.3" y="1197" width="612.2" height="398.6"/></clipPath>
<polygon fill="#f2f2f2" points="898.3,1462.5 1054,1462.5 1054,1396.25 1104.3,1396.25 1104.3,1197.5 1510,1197.5 1510,1595 898.3,1595"/>
<g stroke="#d0d0d0" stroke-width="1" fill="none">
<path d="M898.3 1197.5V1595H1510"/>
<path d="M898.3 1595h-6M898.3 1575.12h-6M898.3 1555.25h-6M898.3 1535.38h-6M898.3 1515.5h-6M898.3 1495.62h-6M898.3 1475.75h-6M898.3 1455.88h-6M898.3 1436h-6M898.3 1416.12h-6M898.3 1396.25h-6M898.3 1376.38h-6M898.3 1356.5h-6M898.3 1336.62h-6M898.3 1316.75h-6M898.3 1296.88h-6M898.3 1277h-6M898.3 1257.12h-6M898.3 1237.25h-6M898.3 1217.38h-6M898.3 1197.5h-6"/>
<path d="M898.3 1595v6.4M928.88 1595v6.4M959.47 1595v6.4M990.05 1595v6.4M1020.64 1595v6.4M1051.22 1595v6.4M1081.81 1595v6.4M1112.39 1595v6.4M1142.98 1595v6.4M1173.57 1595v6.4M1204.15 1595v6.4M1234.74 1595v6.4M1265.32 1595v6.4M1295.9 1595v6.4M1326.49 1595v6.4M1357.08 1595v6.4M1387.66 1595v6.4M1418.24 1595v6.4M1448.83 1595v6.4M1479.41 1595v6.4M1510 1595v6.4"/>
</g>
<g class="t" font-size="8.9" text-anchor="end">
<text x="890.8" y="1598.12" textLength="21.12" lengthAdjust="spacingAndGlyphs">0.000</text><text x="890.8" y="1578.24" textLength="21.12" lengthAdjust="spacingAndGlyphs">5.000</text><text x="890.8" y="1558.37" textLength="25.92" lengthAdjust="spacingAndGlyphs">10.000</text><text x="890.8" y="1538.49" textLength="25.92" lengthAdjust="spacingAndGlyphs">15.000</text><text x="890.8" y="1518.62" textLength="25.92" lengthAdjust="spacingAndGlyphs">20.000</text><text x="890.8" y="1498.74" textLength="25.92" lengthAdjust="spacingAndGlyphs">25.000</text><text x="890.8" y="1478.87" textLength="25.92" lengthAdjust="spacingAndGlyphs">30.000</text><text x="890.8" y="1458.99" textLength="25.92" lengthAdjust="spacingAndGlyphs">35.000</text><text x="890.8" y="1439.12" textLength="25.92" lengthAdjust="spacingAndGlyphs">40.000</text><text x="890.8" y="1419.24" textLength="25.92" lengthAdjust="spacingAndGlyphs">45.000</text><text x="890.8" y="1399.37" textLength="25.92" lengthAdjust="spacingAndGlyphs">50.000</text><text x="890.8" y="1379.49" textLength="25.92" lengthAdjust="spacingAndGlyphs">55.000</text><text x="890.8" y="1359.62" textLength="25.92" lengthAdjust="spacingAndGlyphs">60.000</text><text x="890.8" y="1339.74" textLength="25.92" lengthAdjust="spacingAndGlyphs">65.000</text><text x="890.8" y="1319.87" textLength="25.92" lengthAdjust="spacingAndGlyphs">70.000</text><text x="890.8" y="1299.99" textLength="25.92" lengthAdjust="spacingAndGlyphs">75.000</text><text x="890.8" y="1280.12" textLength="25.92" lengthAdjust="spacingAndGlyphs">80.000</text><text x="890.8" y="1260.24" textLength="25.92" lengthAdjust="spacingAndGlyphs">85.000</text><text x="890.8" y="1240.37" textLength="25.92" lengthAdjust="spacingAndGlyphs">90.000</text><text x="890.8" y="1220.49" textLength="25.92" lengthAdjust="spacingAndGlyphs">95.000</text><text x="890.8" y="1200.62" textLength="30.71" lengthAdjust="spacingAndGlyphs">100.000</text>
</g>
<g class="t" font-size="8.9" text-anchor="middle">
<text x="898.3" y="1611.62" textLength="4.8" lengthAdjust="spacingAndGlyphs">0</text><text x="928.88" y="1611.62" textLength="4.8" lengthAdjust="spacingAndGlyphs">5</text><text x="959.47" y="1611.62" textLength="9.59" lengthAdjust="spacingAndGlyphs">10</text><text x="990.05" y="1611.62" textLength="9.59" lengthAdjust="spacingAndGlyphs">15</text><text x="1020.64" y="1611.62" textLength="9.59" lengthAdjust="spacingAndGlyphs">20</text><text x="1051.22" y="1611.62" textLength="9.59" lengthAdjust="spacingAndGlyphs">25</text><text x="1081.81" y="1611.62" textLength="9.59" lengthAdjust="spacingAndGlyphs">30</text><text x="1112.39" y="1611.62" textLength="9.59" lengthAdjust="spacingAndGlyphs">35</text><text x="1142.98" y="1611.62" textLength="9.59" lengthAdjust="spacingAndGlyphs">40</text><text x="1173.57" y="1611.62" textLength="9.59" lengthAdjust="spacingAndGlyphs">45</text><text x="1204.15" y="1611.62" textLength="9.59" lengthAdjust="spacingAndGlyphs">50</text><text x="1234.74" y="1611.62" textLength="9.59" lengthAdjust="spacingAndGlyphs">55</text><text x="1265.32" y="1611.62" textLength="9.59" lengthAdjust="spacingAndGlyphs">60</text><text x="1295.9" y="1611.62" textLength="9.59" lengthAdjust="spacingAndGlyphs">65</text><text x="1326.49" y="1611.62" textLength="9.59" lengthAdjust="spacingAndGlyphs">70</text><text x="1357.08" y="1611.62" textLength="9.59" lengthAdjust="spacingAndGlyphs">75</text><text x="1387.66" y="1611.62" textLength="9.59" lengthAdjust="spacingAndGlyphs">80</text><text x="1418.24" y="1611.62" textLength="9.59" lengthAdjust="spacingAndGlyphs">85</text><text x="1448.83" y="1611.62" textLength="9.59" lengthAdjust="spacingAndGlyphs">90</text><text x="1479.41" y="1611.62" textLength="9.59" lengthAdjust="spacingAndGlyphs">95</text><text x="1510" y="1611.62" textLength="14.39" lengthAdjust="spacingAndGlyphs">100</text>
</g>
<g clip-path="url(#cp4)">
<polyline fill="none" stroke="#686868" stroke-width="1.15" points="898.3,1462.5 1054,1462.5 1054,1396.25 1104.3,1396.25 1104.3,1197.5 1510,1197.5"/>
<g fill="#3a3a3a">
<circle cx="1104.3" cy="1197.5" r="2.5"/><circle cx="1254.3" cy="1197.5" r="2.5"/><circle cx="1304.1" cy="1197.5" r="2.5"/><circle cx="1356.9" cy="1197.5" r="2.5"/><circle cx="1408.4" cy="1197.5" r="2.5"/><circle cx="1510" cy="1197.5" r="2.5"/>
<circle cx="1201.8" cy="1263.75" r="2.5"/><circle cx="1204.3" cy="1263.75" r="2.5"/><circle cx="1255.3" cy="1263.75" r="2.5"/><circle cx="1304.1" cy="1263.75" r="2.5"/><circle cx="1306.9" cy="1263.75" r="2.5"/><circle cx="1356.9" cy="1263.75" r="2.5"/><circle cx="1358.9" cy="1263.75" r="2.5"/><circle cx="1405.4" cy="1263.75" r="2.5"/><circle cx="1408.4" cy="1263.75" r="2.5"/><circle cx="1456.5" cy="1263.75" r="2.5"/><circle cx="1458.5" cy="1263.75" r="2.5"/><circle cx="1510" cy="1263.75" r="2.5"/>
<circle cx="1104.3" cy="1330" r="2.5"/><circle cx="1150.5" cy="1330" r="2.5"/><circle cx="1153.8" cy="1330" r="2.5"/><circle cx="1156.8" cy="1330" r="2.5"/><circle cx="1202" cy="1330" r="2.5"/><circle cx="1255.3" cy="1330" r="2.5"/><circle cx="1304.4" cy="1330" r="2.5"/><circle cx="1306.9" cy="1330" r="2.5"/><circle cx="1309.1" cy="1330" r="2.5"/><circle cx="1355.6" cy="1330" r="2.5"/><circle cx="1358.1" cy="1330" r="2.5"/><circle cx="1360.6" cy="1330" r="2.5"/><circle cx="1403.4" cy="1330" r="2.5"/><circle cx="1408.4" cy="1330" r="2.5"/><circle cx="1456.5" cy="1330" r="2.5"/><circle cx="1458.5" cy="1330" r="2.5"/><circle cx="1510" cy="1330" r="2.5"/>
<circle cx="1054" cy="1396.25" r="2.5"/><circle cx="1147.5" cy="1396.25" r="2.5"/><circle cx="1199.3" cy="1396.25" r="2.5"/><circle cx="1202" cy="1396.25" r="2.5"/><circle cx="1204.3" cy="1396.25" r="2.5"/><circle cx="1250.6" cy="1396.25" r="2.5"/><circle cx="1253.5" cy="1396.25" r="2.5"/><circle cx="1255.8" cy="1396.25" r="2.5"/><circle cx="1260.3" cy="1396.25" r="2.5"/><circle cx="1308.9" cy="1396.25" r="2.5"/><circle cx="1356.9" cy="1396.25" r="2.5"/>
<circle cx="898.3" cy="1462.5" r="2.5"/><circle cx="1000.8" cy="1462.5" r="2.5"/><circle cx="1098.8" cy="1462.5" r="2.5"/><circle cx="1104.3" cy="1462.5" r="2.5"/><circle cx="1150.5" cy="1462.5" r="2.5"/><circle cx="1152.5" cy="1462.5" r="2.5"/><circle cx="1200.3" cy="1462.5" r="2.5"/><circle cx="1202.3" cy="1462.5" r="2.5"/><circle cx="1204.3" cy="1462.5" r="2.5"/><circle cx="1210.3" cy="1462.5" r="2.5"/><circle cx="1255.3" cy="1462.5" r="2.5"/><circle cx="1304.1" cy="1462.5" r="2.5"/><circle cx="1306.4" cy="1462.5" r="2.5"/><circle cx="1308.6" cy="1462.5" r="2.5"/><circle cx="1356.9" cy="1462.5" r="2.5"/><circle cx="1458.5" cy="1462.5" r="2.5"/><circle cx="1510" cy="1462.5" r="2.5"/>
<circle cx="898.3" cy="1528.75" r="2.5"/><circle cx="1050.8" cy="1528.75" r="2.5"/><circle cx="1098.8" cy="1528.75" r="2.5"/><circle cx="1100.5" cy="1528.75" r="2.5"/><circle cx="1152.3" cy="1528.75" r="2.5"/><circle cx="1154" cy="1528.75" r="2.5"/><circle cx="1204.3" cy="1528.75" r="2.5"/><circle cx="1252.3" cy="1528.75" r="2.5"/><circle cx="1255.3" cy="1528.75" r="2.5"/><circle cx="1304.1" cy="1528.75" r="2.5"/><circle cx="1305.9" cy="1528.75" r="2.5"/><circle cx="1356.9" cy="1528.75" r="2.5"/><circle cx="1408.4" cy="1528.75" r="2.5"/>
<circle cx="898.3" cy="1595" r="2.5"/><circle cx="1099" cy="1595" r="2.5"/><circle cx="1150.3" cy="1595" r="2.5"/><circle cx="1202.3" cy="1595" r="2.5"/><circle cx="1204.3" cy="1595" r="2.5"/><circle cx="1206.5" cy="1595" r="2.5"/><circle cx="1257" cy="1595" r="2.5"/><circle cx="1356.9" cy="1595" r="2.5"/>
</g>
</g>
</g>
<text class="h" font-size="36.4" x="16.7" y="551.8" textLength="703.1" lengthAdjust="spacingAndGlyphs">x-axis: Emotional value, y-axis: Technology use</text>
<text class="h" font-size="36.4" x="875.5" y="551.8" textLength="629.8" lengthAdjust="spacingAndGlyphs">x-axis: Ease of use, y-axis: Technology use</text>
<text class="h" font-size="36.4" x="55.8" y="1153.3" textLength="623.5" lengthAdjust="spacingAndGlyphs">x-axis: Usefulness, y-axis: Technology use</text>
<text class="h" font-size="36.4" x="857" y="1153.3" textLength="666.8" lengthAdjust="spacingAndGlyphs">x-axis: Compatibility, y-axis: Technology use</text>
<path d="M855.5 1355v6" stroke="#d8d8d8" stroke-width="1" fill="none"/>
<path d="M1146 1621.5h28" stroke="#eef0f4" stroke-width="1" fill="none"/>
<path d="M1201 1621.5h5M1236.5 1621.5h7M1246 1621.5h2M1249.5 1621.5h1.5M1252 1621.5h1.5" stroke="#ccd2da" stroke-width="1" fill="none"/>
</svg>
</body></html>
